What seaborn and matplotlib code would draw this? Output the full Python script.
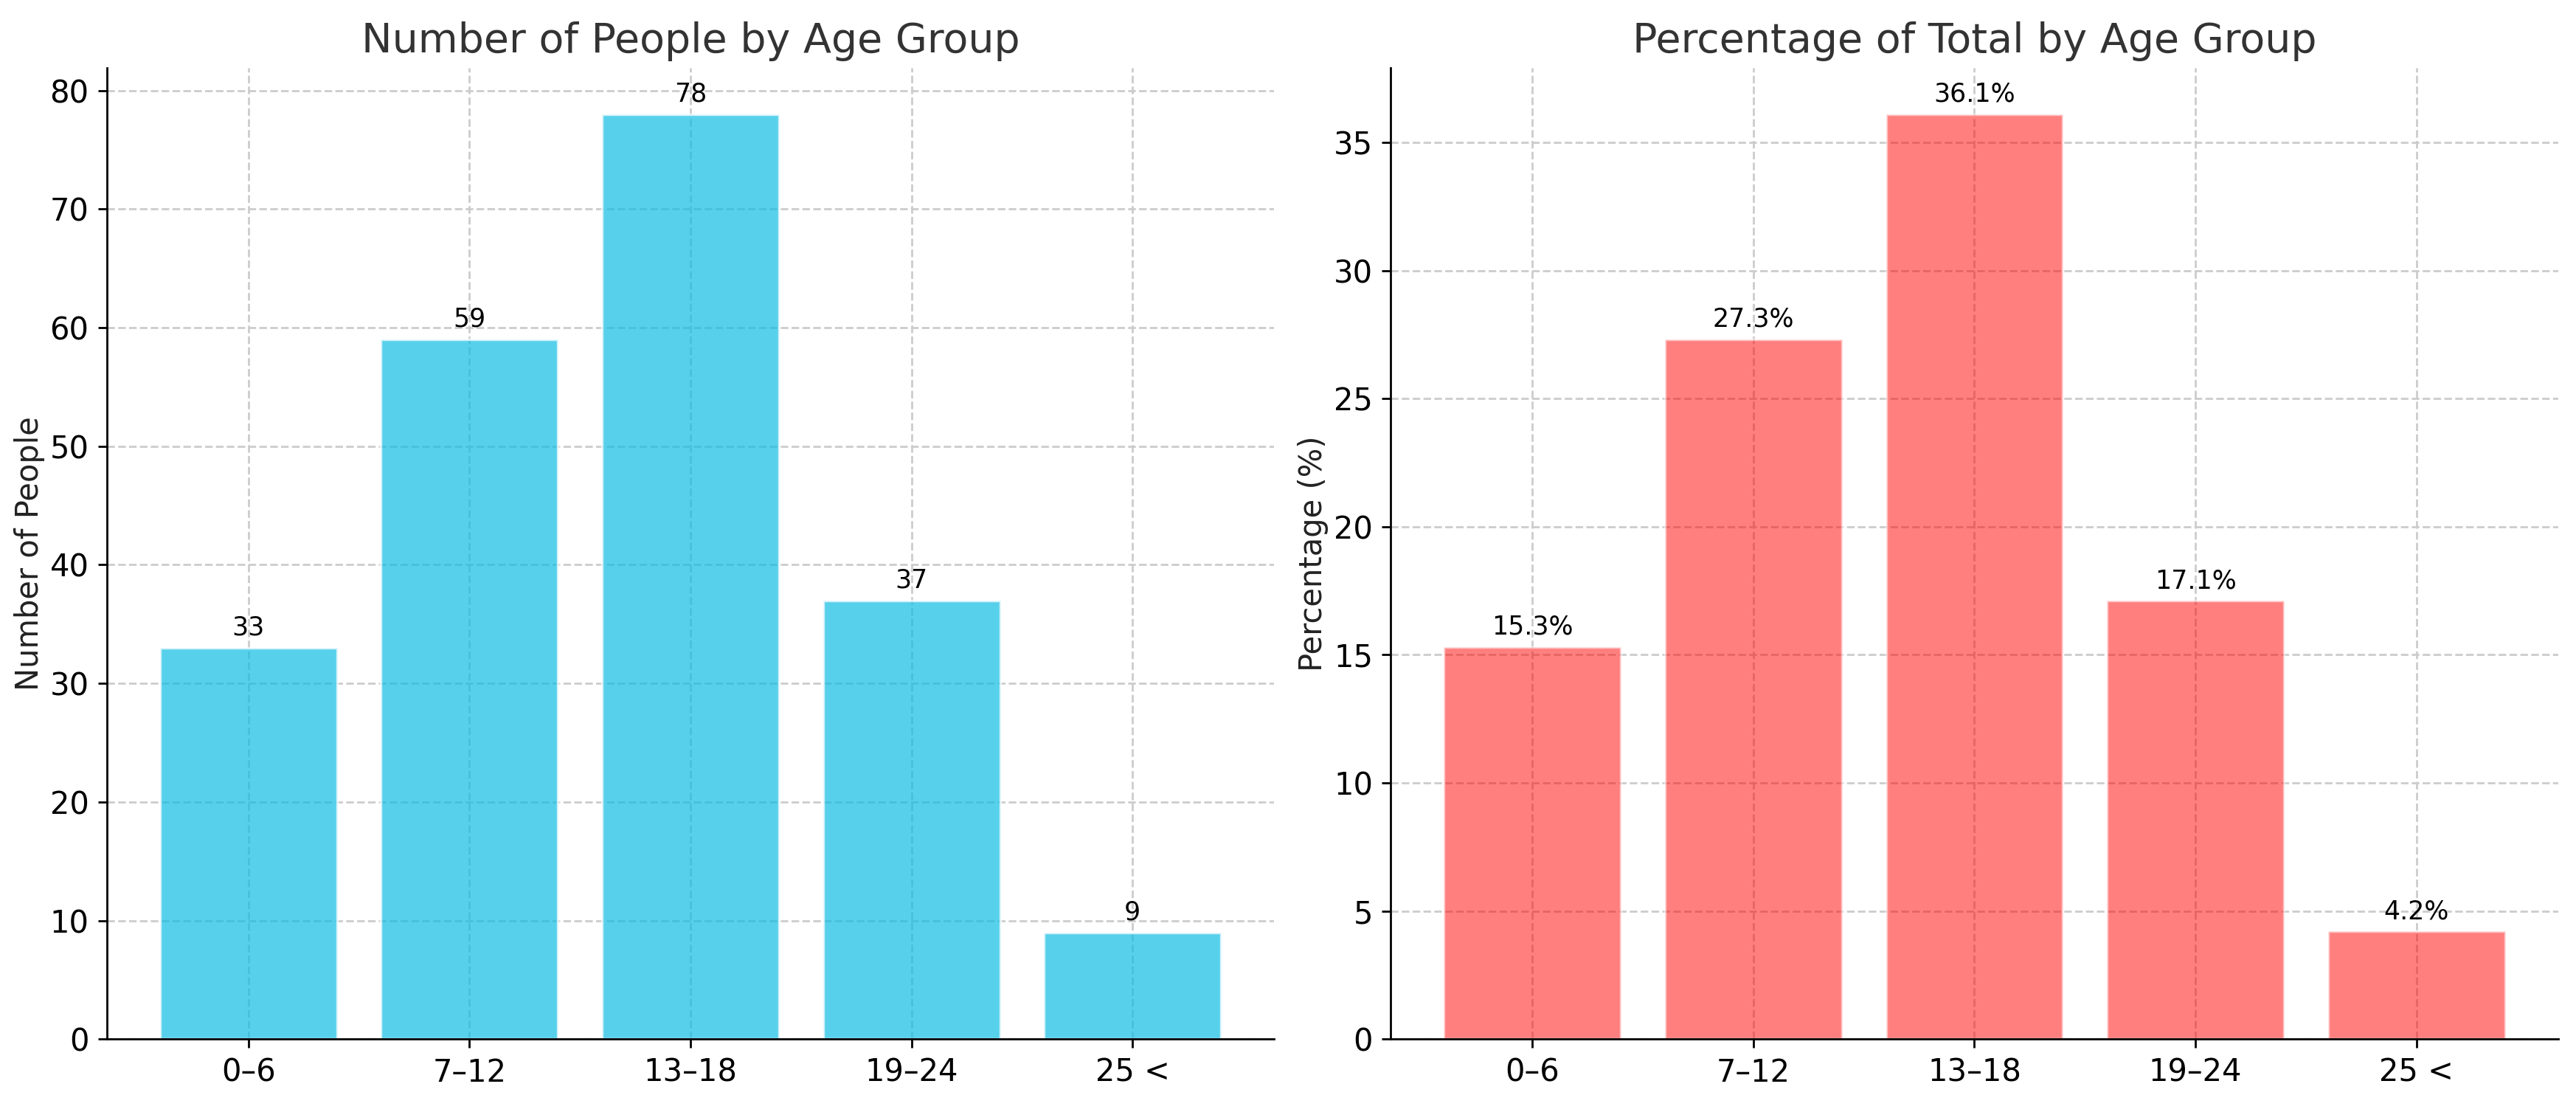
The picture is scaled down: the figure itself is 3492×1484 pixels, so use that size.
import matplotlib
matplotlib.use("Agg")
import matplotlib.pyplot as plt
import seaborn as sns

# Data
age_groups = ["0–6", "7–12", "13–18", "19–24", "25 <"]
people_counts = [33, 59, 78, 37, 9]
percentages = [15.3, 27.3, 36.1, 17.1, 4.2]

sns.set_style("ticks")
plt.rcParams["font.family"] = ["DejaVu Sans"]
plt.rcParams["text.color"] = "black"
plt.rcParams["xtick.color"] = "black"
plt.rcParams["ytick.color"] = "black"
plt.rcParams["axes.edgecolor"] = "black"

fig, axes = plt.subplots(1, 2, figsize=(13.968, 5.936), dpi=250)


def draw_panel(ax, values, color, alpha, title, ylabel, fmt):
    sns.barplot(x=age_groups, y=values, color=color, saturation=1, alpha=alpha,
                width=0.8, ax=ax)
    ax.set_title(title, fontsize=16, color="#333333")
    ax.set_ylabel(ylabel, fontsize=12, color="#222222", labelpad=2)
    ax.set_xlabel("")
    ax.tick_params(labelsize=12)
    ax.set_xlim(-0.64, len(age_groups) - 1 + 0.64)
    ax.set_ylim(0, max(values) * 1.05)
    ax.grid(True, linestyle="--", color="#cccccc", linewidth=0.8)
    ax.set_axisbelow(True)
    sns.despine(ax=ax)
    for patch, v in zip(ax.patches, values):
        ax.annotate(fmt.format(v), (patch.get_x() + patch.get_width() / 2, patch.get_height()),
                    xytext=(0, 3), textcoords="offset points", ha="center", va="bottom",
                    fontsize=10, color="black")


draw_panel(axes[0], people_counts, "#10BCE3", 0.7, "Number of People by Age Group",
           "Number of People", "{:d}")
draw_panel(axes[1], percentages, "red", 0.5, "Percentage of Total by Age Group",
           "Percentage (%)", "{:.1f}%")

fig.subplots_adjust(left=0.0415, right=0.993, top=0.938, bottom=0.051, wspace=0.1)
plt.savefig("out.png", dpi=250)
